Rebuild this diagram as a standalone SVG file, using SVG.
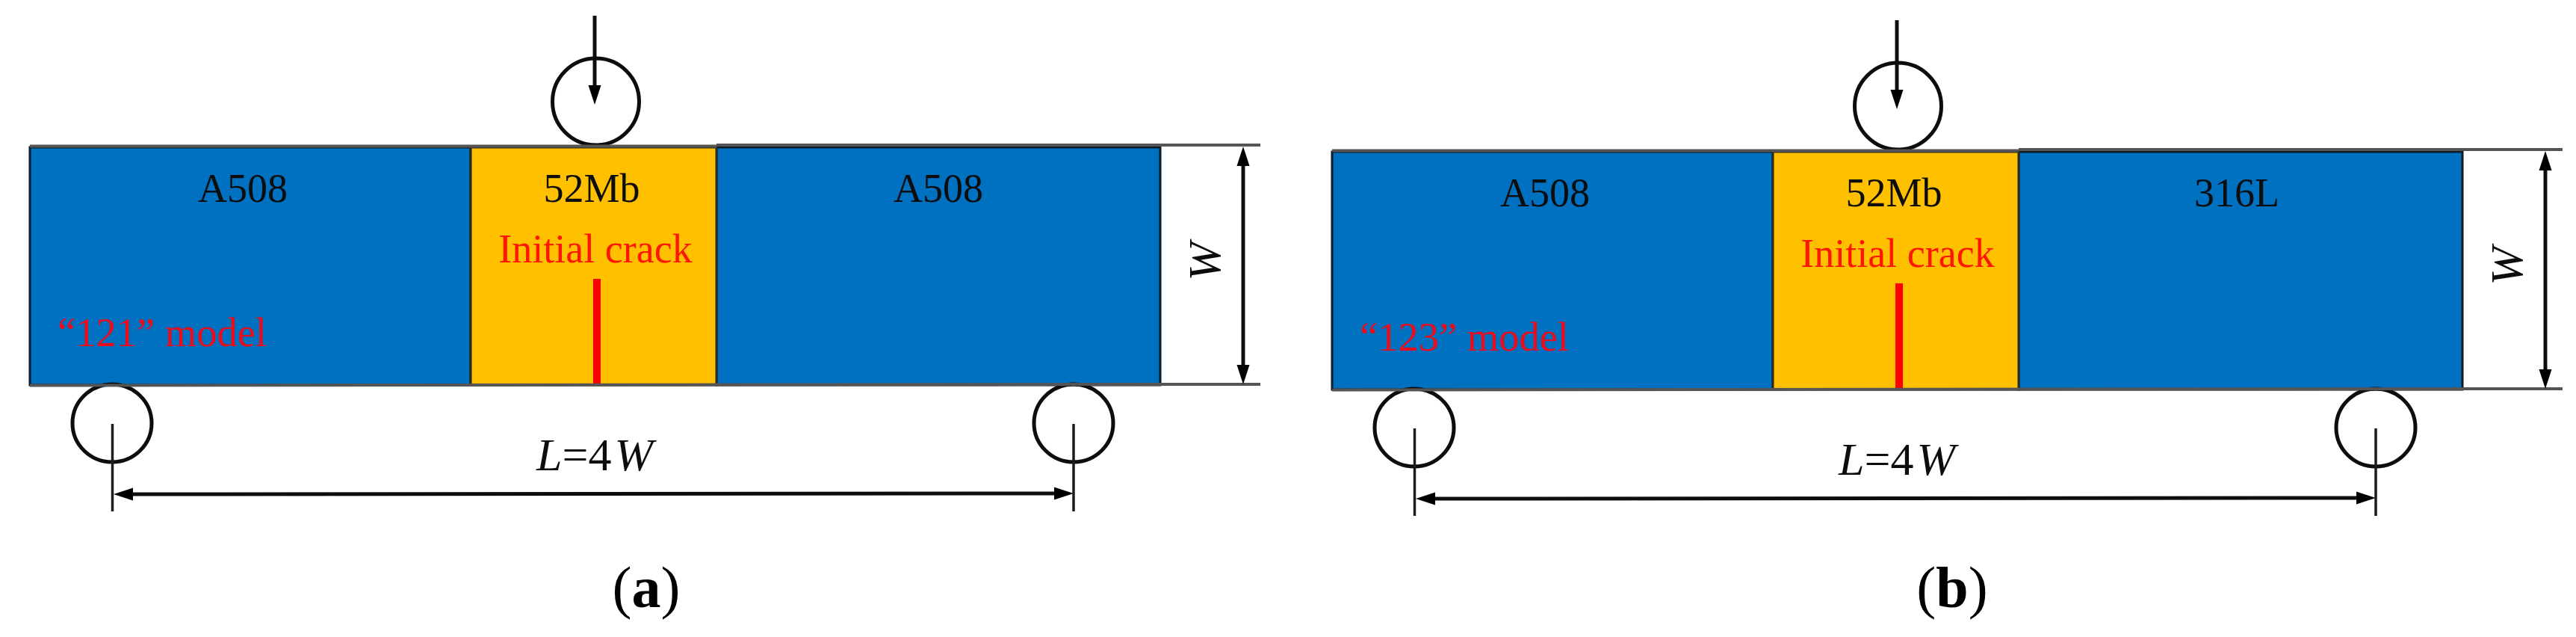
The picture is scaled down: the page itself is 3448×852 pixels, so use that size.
<svg xmlns="http://www.w3.org/2000/svg" width="3448" height="852" viewBox="0 0 3448 852">
  <style>
    text { font-family: "Liberation Serif", "Times New Roman", serif; }
    .lbl { font-size: 54px; fill: #0d0d0d; text-anchor: middle; }
    .crack { font-size: 54px; fill: #ff1500; text-anchor: middle; }
    .model { font-size: 54.5px; fill: #e8101e; }
    .dim { font-size: 62px; fill: #111; font-style: italic; text-anchor: middle; }
    .cap { font-size: 78px; fill: #000; text-anchor: middle; }
    .cap tspan { font-weight: bold; }
    .blue { fill: #0070c0; stroke: #0a1a28; stroke-width: 3; }
    .orange { fill: #ffc000; stroke: #2a2a20; stroke-width: 3; }
    .roller { fill: #fff; fill-opacity: 0; stroke: #0a0a0a; stroke-width: 5; }
    .ext { stroke: #555; stroke-width: 4; fill: none; }
    .thin { stroke: #1a1a1a; stroke-width: 3.5; fill: none; }
    .arrow { stroke: #111; stroke-width: 5; fill: none; }
    .crackline { stroke: #ff0000; stroke-width: 10; fill: none; }
  </style>
  <defs>
    <marker id="head" markerUnits="userSpaceOnUse" markerWidth="26" markerHeight="18" refX="0" refY="9" orient="auto-start-reverse">
      <path d="M0,0.5 L26,9 L0,17.500 Z" fill="#000"/>
    </marker>
    <filter id="soft" x="-2%" y="-2%" width="104%" height="104%">
      <feGaussianBlur stdDeviation="0.7"/>
    </filter>
    <g id="rollerTop"><ellipse class="roller" cx="797.500" cy="136" rx="58" ry="58"/></g>
  </defs>
  <rect width="3448" height="852" fill="#fff"/>
  <g filter="url(#soft)">
    <g id="panel-a">
      <g id="a-left-block">
        <rect class="blue" x="40" y="197" width="590" height="318"/>
        <text class="lbl" x="325" y="270">A508</text>
        <text class="model" x="77" y="463">“121” model</text>
      </g>
      <g id="a-right-block">
        <rect class="blue" x="959" y="197" width="594" height="318"/>
        <text class="lbl" x="1256" y="270">A508</text>
      </g>
      <g id="a-weld">
        <rect class="orange" x="630" y="197" width="329" height="318"/>
        <text class="lbl" x="792" y="270">52Mb</text>
        <text class="crack" x="797" y="351">Initial crack</text>
        <line class="crackline" x1="799" y1="373" x2="799" y2="515"/>
      </g>
      <g id="a-load-roller"><ellipse class="roller" cx="797.500" cy="136" rx="58" ry="58"/></g>
      <g id="a-left-roller"><ellipse class="roller" cx="150" cy="566" rx="53" ry="52"/></g>
      <g id="a-right-roller"><ellipse class="roller" cx="1437" cy="566" rx="53" ry="52"/></g>
      <g id="a-connectors">
        <line class="ext" x1="40" y1="195.500" x2="959" y2="195.500"/>
        <line class="ext" x1="959" y1="194" x2="1687" y2="194"/>
        <line class="ext" x1="40" y1="515.500" x2="1687" y2="514"/>
        <line class="arrow" x1="796" y1="21" x2="796" y2="114" marker-end="url(#head)"/>
        <line class="arrow" x1="1664" y1="488" x2="1664" y2="222" marker-start="url(#head)" marker-end="url(#head)"/>
        <line class="arrow" x1="178" y1="661" x2="1411" y2="660" marker-start="url(#head)" marker-end="url(#head)"/>
        <line class="thin" x1="150.500" y1="567" x2="150.500" y2="684"/>
        <line class="thin" x1="1437" y1="567" x2="1437" y2="684"/>
      </g>
      <g id="a-dimensions">
        <text class="dim" transform="translate(1633 350) rotate(-90)">W</text>
        <text class="dim" x="796" y="629"><tspan>L</tspan><tspan font-style="normal">=4</tspan><tspan dx="4">W</tspan></text>
      </g>
    </g>
    <g id="panel-b" transform="translate(1743 6)">
      <g id="b-left-block">
        <rect class="blue" x="40" y="197" width="590" height="318"/>
        <text class="lbl" x="325" y="270">A508</text>
        <text class="model" x="77" y="463">“123” model</text>
      </g>
      <g id="b-right-block">
        <rect class="blue" x="959" y="197" width="594" height="318"/>
        <text class="lbl" x="1251" y="270">316L</text>
      </g>
      <g id="b-weld">
        <rect class="orange" x="630" y="197" width="329" height="318"/>
        <text class="lbl" x="792" y="270">52Mb</text>
        <text class="crack" x="797" y="351">Initial crack</text>
        <line class="crackline" x1="799" y1="373" x2="799" y2="515"/>
      </g>
      <g id="b-load-roller"><ellipse class="roller" cx="797.500" cy="136" rx="58" ry="58"/></g>
      <g id="b-left-roller"><ellipse class="roller" cx="150" cy="566" rx="53" ry="52"/></g>
      <g id="b-right-roller"><ellipse class="roller" cx="1437" cy="566" rx="53" ry="52"/></g>
      <g id="b-connectors">
        <line class="ext" x1="40" y1="195.500" x2="959" y2="195.500"/>
        <line class="ext" x1="959" y1="194" x2="1687" y2="194"/>
        <line class="ext" x1="40" y1="515.500" x2="1687" y2="514"/>
        <line class="arrow" x1="796" y1="21" x2="796" y2="114" marker-end="url(#head)"/>
        <line class="arrow" x1="1664" y1="488" x2="1664" y2="222" marker-start="url(#head)" marker-end="url(#head)"/>
        <line class="arrow" x1="178" y1="661" x2="1411" y2="660" marker-start="url(#head)" marker-end="url(#head)"/>
        <line class="thin" x1="150.500" y1="567" x2="150.500" y2="684"/>
        <line class="thin" x1="1437" y1="567" x2="1437" y2="684"/>
      </g>
      <g id="b-dimensions">
        <text class="dim" transform="translate(1633 350) rotate(-90)">W</text>
        <text class="dim" x="796" y="629"><tspan>L</tspan><tspan font-style="normal">=4</tspan><tspan dx="4">W</tspan></text>
      </g>
    </g>
    <g id="captions">
      <text class="cap" x="865" y="812">(<tspan>a</tspan>)</text>
      <text class="cap" x="2613" y="812">(<tspan>b</tspan>)</text>
    </g>
  </g>
</svg>
